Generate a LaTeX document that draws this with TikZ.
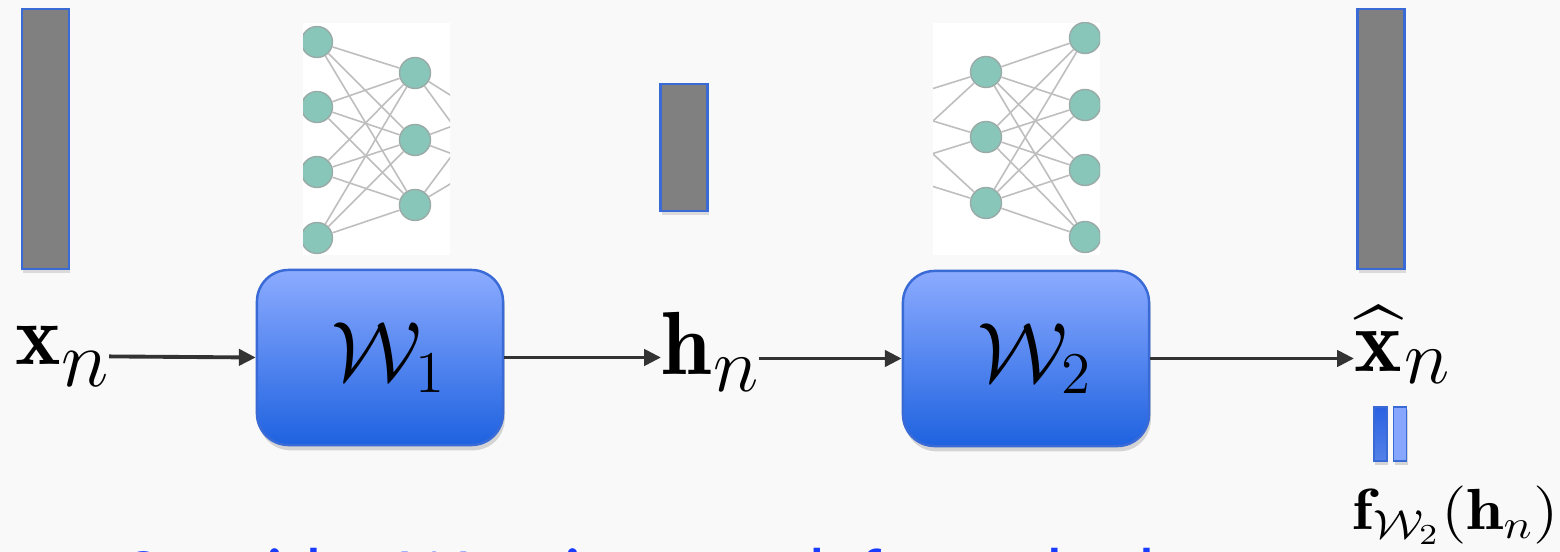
\RequirePackage{fix-cm}
\documentclass[tikz,border=0pt]{standalone}
\usepackage{exscale}
\usepackage{graphicx}
\usepackage{fontspec}
\newfontfamily\calibri{Carlito}
\usetikzlibrary{shadows,arrows.meta}
\definecolor{bg}{HTML}{F9F9F9}
\definecolor{barfill}{HTML}{808080}
\definecolor{barline}{HTML}{3A6AD6}
\definecolor{boxtop}{HTML}{8CABFF}
\definecolor{boxbot}{HTML}{1E62E0}
\definecolor{nnfill}{HTML}{88C6BA}
\definecolor{nnline}{HTML}{9AAAA6}
\definecolor{nnedge}{HTML}{BEBEBE}
\definecolor{arrcol}{HTML}{333333}
\definecolor{txtblue}{HTML}{1A3CFF}
\definecolor{eqdark}{HTML}{2A62E2}
\definecolor{eqlight}{HTML}{86A6FF}
% a lowered subscript of its own size: lowering, font size, symbol
\newcommand\lsub[3]{\raisebox{#1}{\fontsize{#2}{#2}\selectfont$#3$}}
\tikzset{
  bar/.style={draw=barline, line width=0.8pt, fill=barfill, inner sep=0pt,
    minimum width=0.47cm,
    drop shadow={opacity=0.25, shadow xshift=0.4pt, shadow yshift=-1.2pt}},
  wbox/.style={draw=barline, line width=0.7pt, rounded corners=9pt,
    top color=boxtop, bottom color=boxbot, minimum width=2.46cm,
    minimum height=1.75cm, inner sep=0pt,
    drop shadow={opacity=0.3, shadow xshift=0.5pt, shadow yshift=-1.5pt},
    font=\fontsize{24}{29}\selectfont},
  lbl/.style={inner sep=0pt},
  arr/.style={draw=arrcol, line width=1.1pt, -{Triangle[length=4.8pt,width=4.6pt]}},
  nn/.style={circle, fill=nnfill, draw=nnline, line width=0.4pt,
    minimum size=0.31cm, inner sep=0pt},
  nnl/.style={draw=nnedge, line width=0.45pt},
  eqbar/.style={draw=barline, line width=0.5pt, minimum width=0.13cm,
    minimum height=0.54cm, inner sep=0pt,
    drop shadow={opacity=0.3, shadow xshift=0.3pt, shadow yshift=-1pt}},
}
\begin{document}
\begin{tikzpicture}[x=0.01cm, y=-0.01cm]
\useasboundingbox (0,0) rectangle (1560,552);
\fill[bg] (0,0) rectangle (1560,552);

% neural net picture 1
\begin{scope}
  \fill[white] (303,23) rectangle (450,255);
  \clip (303,23) rectangle (450,255);
  \node[nn] (p1) at (317,42) {};
  \node[nn] (p2) at (317,107) {};
  \node[nn] (p3) at (317,172) {};
  \node[nn] (p4) at (317,238) {};
  \node[nn] (q1) at (415,73) {};
  \node[nn] (q2) at (415,140) {};
  \node[nn] (q3) at (415,205) {};
  \node[nn] (r1) at (482,115) {};
  \node[nn] (r2) at (482,165) {};
  \foreach \a in {p1,p2,p3,p4}{\foreach \b in {q1,q2,q3}{\draw[nnl] (\a) -- (\b);}}
  \foreach \a in {q1,q2,q3}{\foreach \b in {r1,r2}{\draw[nnl] (\a) -- (\b);}}
\end{scope}

% neural net picture 2
\begin{scope}
  \fill[white] (933,23) rectangle (1100,255);
  \clip (933,23) rectangle (1100,255);
  \node[nn] (s1) at (880,105) {};
  \node[nn] (s2) at (880,170) {};
  \node[nn] (a1) at (986,72) {};
  \node[nn] (a2) at (986,137) {};
  \node[nn] (a3) at (986,203) {};
  \node[nn] (b1) at (1085,38) {};
  \node[nn] (b2) at (1085,105) {};
  \node[nn] (b3) at (1085,170) {};
  \node[nn] (b4) at (1085,237) {};
  \foreach \a in {s1,s2}{\foreach \b in {a1,a2,a3}{\draw[nnl] (\a) -- (\b);}}
  \foreach \a in {a1,a2,a3}{\foreach \b in {b1,b2,b3,b4}{\draw[nnl] (\a) -- (\b);}}
\end{scope}

% vectors
\node[bar, minimum height=2.6cm] (vx) at (45.5,139) {};
\node[bar, minimum height=1.27cm] (vh) at (684,147.5) {};
\node[bar, minimum height=2.6cm] (vxh) at (1381,139) {};

% weight boxes
\node[wbox] (w1) at (380,357.5) {\hspace{5pt}$\mathcal{W}_1$};
\node[wbox] (w2) at (1026,358.5) {\hspace{5pt}$\mathcal{W}_2$};

% labels
\node[lbl, anchor=base west] (xn) at (15,365)
  {\fontsize{24.5}{29}\selectfont$\mathbf{x}$\lsub{-6pt}{23}{n}};
\node[lbl, anchor=base west] (hn) at (661,375)
  {\fontsize{25.5}{30}\selectfont$\mathbf{h}$\kern0.5pt\lsub{-4.8pt}{22}{n}};
\node[lbl, anchor=base west] (xh) at (1354,372)
  {\fontsize{25.6}{30}\selectfont$\widehat{\mathbf{x}}$\kern0.5pt\lsub{-3.2pt}{22}{n}};
\node[lbl, anchor=base west] (fw) at (1352,530)
  {\scalebox{1.15}[1]{\fontsize{16.5}{20}\selectfont$\mathbf{f}_{\mathcal{W}_2}(\mathbf{h}_n)$}};

% equals sign
\node[eqbar, top color=eqdark, bottom color=eqdark!80!white] (eq1) at (1380.5,434) {};
\node[eqbar, fill=eqlight] (eq2) at (1400,434) {};

% arrows
\draw[arr] (xn.east) -- (w1.west);
\draw[arr] (w1.east) -- (w1.east -| hn.west);
\draw[arr] (hn.east |- w2.west) -- (w2.west);
\draw[arr] (w2.east) -- (w2.east -| xh.west);

% caption, cut off at the bottom edge
\begin{scope}
  \clip (0,0) rectangle (1560,552);
  \node[inner sep=0pt, anchor=base west, text=txtblue,
    font=\calibri\fontsize{21}{25}\selectfont] (cap) at (120,600)
    {Consider W as in a mark from the latent};
\end{scope}
\end{tikzpicture}
\end{document}
